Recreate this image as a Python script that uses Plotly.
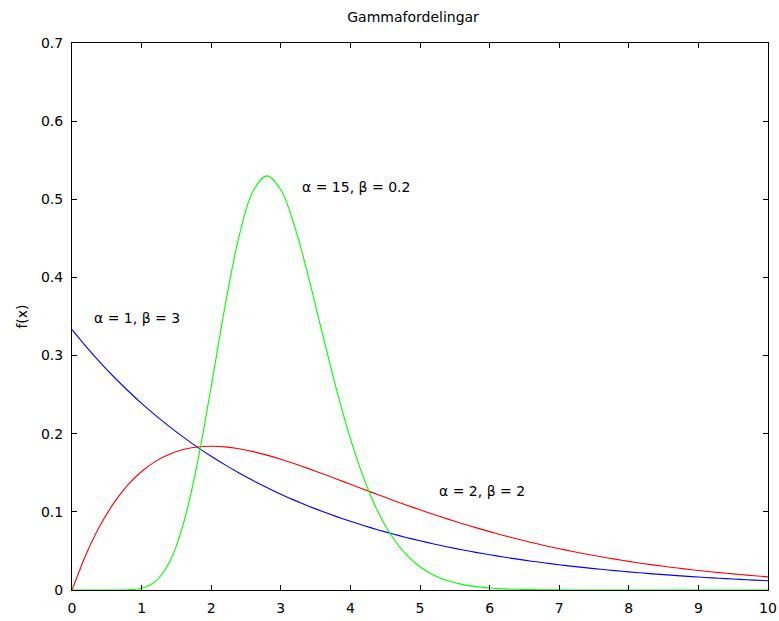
import plotly.graph_objects as go

# x grid (step 0.2)
x_vals = [round(0.2 * i, 1) for i in range(51)]

# alpha = 1, beta = 3 (blue)
blue_y = [0.3333, 0.3118, 0.2917, 0.2729, 0.2553, 0.2388, 0.2234, 0.2090, 0.1956, 0.1829,
          0.1711, 0.1601, 0.1498, 0.1401, 0.1311, 0.1226, 0.1147, 0.1073, 0.1004, 0.0939,
          0.0879, 0.0822, 0.0769, 0.0719, 0.0673, 0.0630, 0.0589, 0.0551, 0.0515, 0.0482,
          0.0451, 0.0422, 0.0395, 0.0369, 0.0346, 0.0323, 0.0302, 0.0283, 0.0265, 0.0248,
          0.0232, 0.0217, 0.0203, 0.0190, 0.0177, 0.0166, 0.0155, 0.0145, 0.0136, 0.0127,
          0.0119]

# alpha = 2, beta = 2 (red)
red_y = [0.0, 0.0452, 0.0819, 0.1111, 0.1341, 0.1516, 0.1646, 0.1738, 0.1797, 0.1830,
         0.1839, 0.1831, 0.1807, 0.1771, 0.1726, 0.1673, 0.1615, 0.1553, 0.1488, 0.1421,
         0.1353, 0.1286, 0.1219, 0.1153, 0.1089, 0.1026, 0.0966, 0.0907, 0.0851, 0.0798,
         0.0747, 0.0698, 0.0652, 0.0609, 0.0567, 0.0528, 0.0492, 0.0457, 0.0425, 0.0395,
         0.0366, 0.0340, 0.0315, 0.0292, 0.0270, 0.0250, 0.0231, 0.0214, 0.0198, 0.0182,
         0.0168]

# alpha = 15, beta = 0.2 (green)
green_y = [0.0, 0.0, 0.0, 0.00001, 0.00028, 0.00236, 0.0111, 0.0355, 0.0846, 0.1619,
           0.2604, 0.3637, 0.4524, 0.5104, 0.5299, 0.5122, 0.4651, 0.3998, 0.3274, 0.2567,
           0.1937, 0.1411, 0.0995, 0.0682, 0.0455, 0.0297, 0.0189, 0.0118, 0.0072, 0.0043,
           0.0026, 0.0015, 0.0009, 0.0005, 0.0003, 0.0001, 0.0, 0.0, 0.0, 0.0,
           0.0, 0.0, 0.0, 0.0, 0.0, 0.0, 0.0, 0.0, 0.0, 0.0,
           0.0]

labels = ["α = 1, β = 3", "α = 15, β = 0.2", "α = 2, β = 2"]
label_x = [0.29, 3.28, 5.24]
label_y = [0.348, 0.516, 0.127]

x_ticks = list(range(0, 11))
y_ticks = [0, 0.1, 0.2, 0.3, 0.4, 0.5, 0.6, 0.7]
y_ticktext = ["0", "0.1", "0.2", "0.3", "0.4", "0.5", "0.6", "0.7"]

font_family = "DejaVu Sans, Arial, sans-serif"

fig = go.Figure()
fig.add_trace(go.Scatter(x=x_vals, y=blue_y, mode="lines",
                         line=dict(color="#0000ff", width=1.1, shape="spline", smoothing=0.6)))
fig.add_trace(go.Scatter(x=x_vals, y=red_y, mode="lines",
                         line=dict(color="#ff0000", width=1.1, shape="spline", smoothing=0.6)))
fig.add_trace(go.Scatter(x=x_vals, y=green_y, mode="lines",
                         line=dict(color="#00ff00", width=1.1, shape="spline", smoothing=1.0)))

for t, lx, ly in zip(labels, label_x, label_y):
    fig.add_annotation(x=lx, y=ly, text=t, showarrow=False, xanchor="left", yanchor="middle",
                       font=dict(size=14, color="black", family=font_family))

axis_common = dict(showline=True, linecolor="black", linewidth=1, mirror="ticks",
                   ticks="inside", ticklen=5, tickcolor="black", showgrid=False,
                   zeroline=False, ticklabelstandoff=5,
                   tickfont=dict(size=14, color="black", family=font_family))

fig.update_xaxes(range=[0, 10], tickvals=x_ticks, **axis_common)
fig.update_yaxes(range=[0, 0.7], tickvals=y_ticks, ticktext=y_ticktext,
                 title=dict(text="f(x)", font=dict(size=14, color="black", family=font_family), standoff=10),
                 **axis_common)

fig.update_layout(
    width=779, height=621,
    margin=dict(l=72, r=11, t=43, b=31, autoexpand=False),
    paper_bgcolor="white", plot_bgcolor="white",
    showlegend=False,
    title=dict(text="Gammafordelingar", xref="paper", x=0.49, xanchor="center",
               yref="container", y=0.972, yanchor="middle",
               font=dict(size=14, color="black", family=font_family)),
)

fig.write_html("out.html", config={"displayModeBar": False},
               post_script="document.body.style.margin='0';document.body.style.overflow='hidden';")
